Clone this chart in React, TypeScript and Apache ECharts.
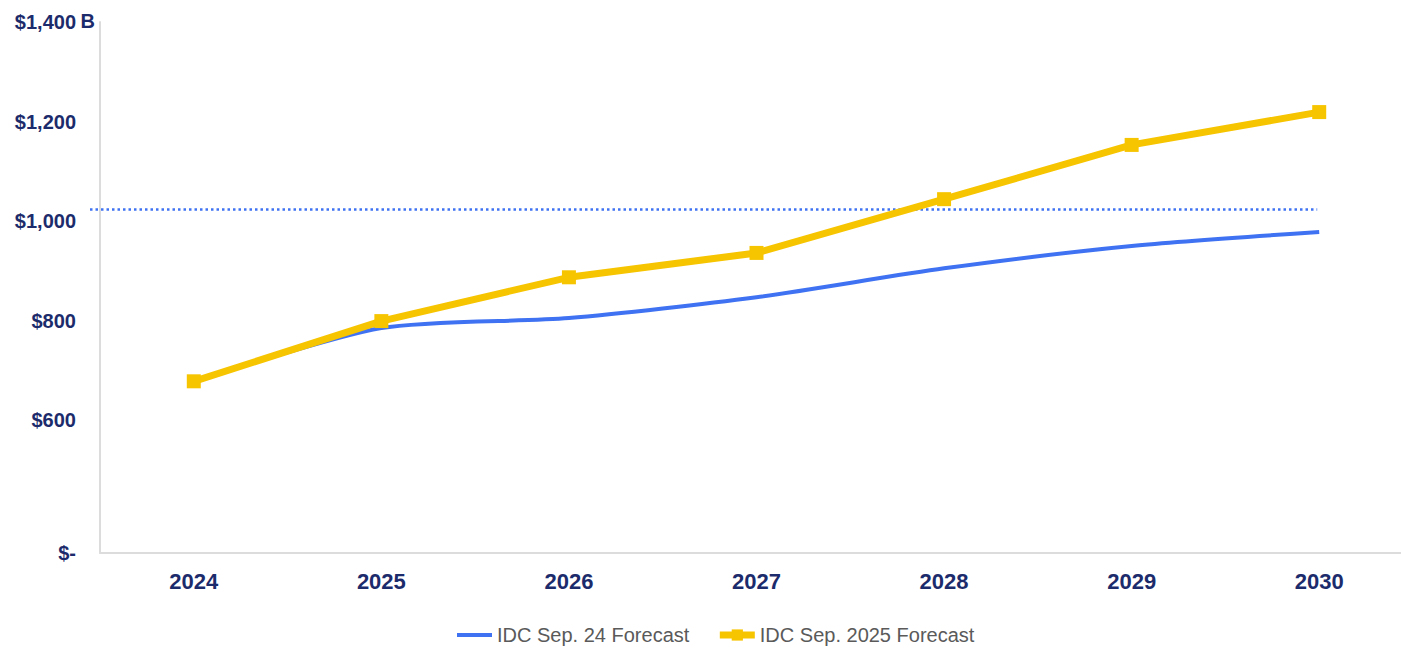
import React, { useEffect, useRef } from "react";
import * as echarts from "echarts";

const categories = ["2024", "2025", "2026", "2027", "2028", "2029", "2030"];
const sep24Forecast = [678, 785, 805, 847, 905, 950, 978];
const sep25Forecast = [678, 799, 887, 936, 1044, 1153, 1219];
const yTickValues = [333, 600, 800, 1000, 1200, 1400];
const yMin = 333;
const yMax = 1400;
const unitLabel = "B";
const referenceValue = 1023;
const seriesNames = ["IDC Sep. 24 Forecast", "IDC Sep. 2025 Forecast"];

const NAVY = "#1c2b6b";
const BLUE = "#3f72f2";
const YELLOW = "#f7c400";
const FONT = "Liberation Sans, Arial, sans-serif";
const GRID_LEFT = 100;

export default function App() {
  const ref = useRef<HTMLDivElement>(null);
  useEffect(() => {
    if (!ref.current) return;
    const chart = echarts.init(ref.current, undefined, { renderer: "svg" });
    chart.setOption({
      animation: false,
      backgroundColor: "#ffffff",
      grid: {
        left: GRID_LEFT,
        top: 22,
        bottom: 96,
        width: 1313,
        containLabel: false,
        outerBoundsMode: "none",
      },
      legend: {
        left: 450,
        top: 620,
        itemWidth: 35,
        itemHeight: 14,
        itemGap: 27,
        textStyle: { fontFamily: FONT, fontSize: 20, color: "#5a5a5a" },
        data: [
          { name: seriesNames[0], itemStyle: { opacity: 0 }, lineStyle: { width: 4, color: BLUE } },
          { name: seriesNames[1], lineStyle: { width: 7, color: YELLOW } },
        ],
      },
      xAxis: {
        type: "category",
        data: categories,
        boundaryGap: true,
        axisLine: { lineStyle: { color: "#dcdcdc", width: 2 } },
        axisTick: { show: false },
        axisLabel: {
          margin: 17,
          fontFamily: FONT,
          fontWeight: "bold",
          fontSize: 22,
          color: NAVY,
        },
        splitLine: { show: false },
      },
      yAxis: {
        type: "value",
        min: yMin,
        max: yMax,
        axisLine: { show: true, lineStyle: { color: "#dcdcdc", width: 2 } },
        axisTick: { show: false },
        splitLine: { show: false },
        axisLabel: {
          customValues: yTickValues,
          margin: 24,
          fontFamily: FONT,
          fontWeight: "bold",
          fontSize: 20,
          color: NAVY,
          formatter: (v: number) => (v === yMin ? "$-" : "$" + v.toLocaleString("en-US")),
        },
      },
      series: [
        {
          name: seriesNames[0],
          type: "line",
          data: sep24Forecast,
          smooth: 0.25,
          showSymbol: false,
          symbol: "none",
          lineStyle: { color: BLUE, width: 4 },
          itemStyle: { color: BLUE },
          z: 2,
        },
        {
          name: seriesNames[1],
          type: "line",
          data: sep25Forecast,
          symbol: "rect",
          symbolSize: 14,
          lineStyle: { color: YELLOW, width: 7 },
          itemStyle: { color: YELLOW },
          z: 3,
        },
      ],
    });
    const y = chart.convertToPixel({ yAxisIndex: 0 }, referenceValue) as number;
    const yTop = chart.convertToPixel({ yAxisIndex: 0 }, yMax) as number;
    const xStart = GRID_LEFT - 10;
    const xEnd = chart.convertToPixel({ xAxisIndex: 0 }, categories[categories.length - 1]) as number;
    chart.setOption({
      graphic: [
        {
          type: "line",
          z: 1,
          shape: { x1: xStart, y1: y, x2: xEnd - 2, y2: y },
          style: { stroke: BLUE, lineWidth: 2.5, lineDash: [2.5, 3] },
        },
        {
          type: "text",
          x: GRID_LEFT - 5,
          y: yTop - 1,
          style: {
            text: unitLabel,
            align: "right",
            verticalAlign: "middle",
            font: "bold 20px " + FONT,
            fill: NAVY,
          },
        },
      ],
    });
    return () => chart.dispose();
  }, []);
  return (
    <div
      ref={ref}
      style={{ position: "absolute", left: 0, top: 0, width: 1401, height: 649 }}
    />
  );
}
